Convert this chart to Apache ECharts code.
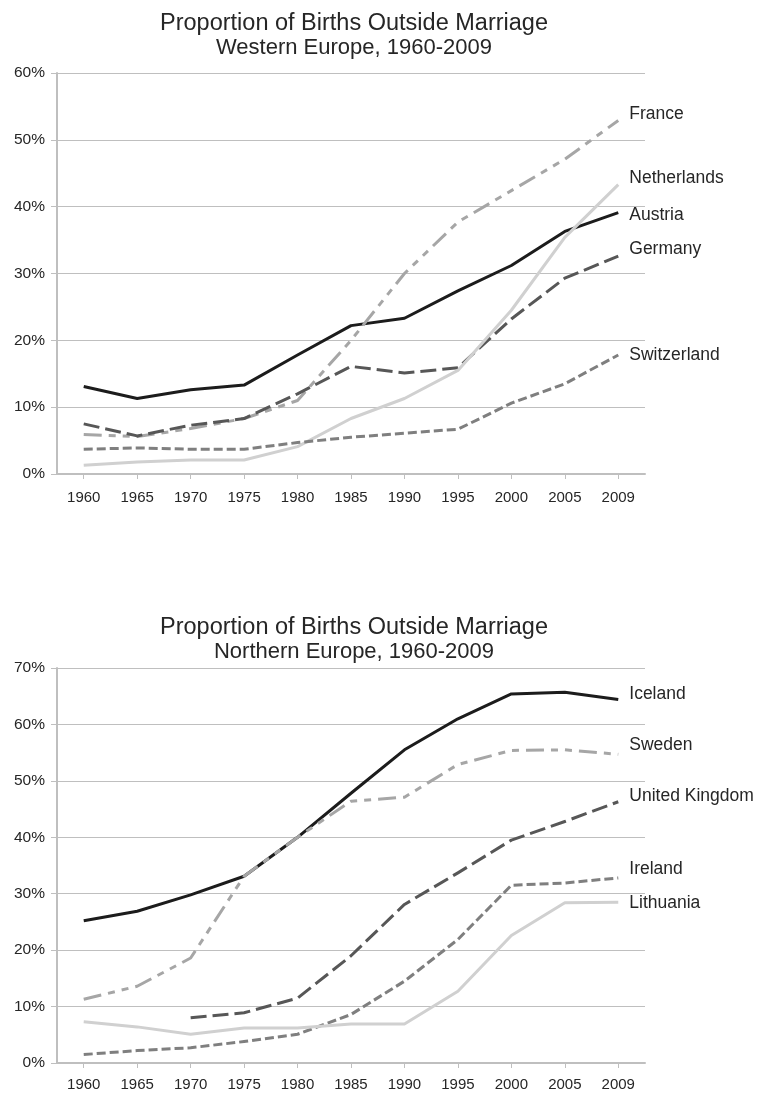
<!DOCTYPE html>
<html>
<head>
<meta charset="utf-8">
<script src="https://cdn.jsdelivr.net/npm/echarts@6/dist/echarts.min.js"></script>
<style>
html,body{margin:0;padding:0;background:#fff;}
#c{width:758px;height:1093px;}
</style>
</head>
<body>
<div id="c"></div>
<script>
const years = ['1960','1965','1970','1975','1980','1985','1990','1995','2000','2005','2009'];

const titleMain = 'Proportion of Births Outside Marriage';
const subWest = 'Western Europe, 1960-2009';
const subNorth = 'Northern Europe, 1960-2009';

// Western Europe (%)
const austria     = [13.1, 11.3, 12.6, 13.3, 17.8, 22.2, 23.3, 27.4, 31.2, 36.3, 39.1];
const france      = [5.9, 5.6, 6.8, 8.3, 11.0, 20.0, 30.0, 37.7, 42.4, 47.1, 52.9];
const germany     = [7.5, 5.7, 7.3, 8.3, 12.0, 16.1, 15.1, 15.9, 23.2, 29.3, 32.6];
const netherlands = [1.3, 1.8, 2.1, 2.1, 4.1, 8.3, 11.3, 15.5, 24.5, 35.4, 43.3];
const switzerland = [3.7, 3.9, 3.7, 3.7, 4.7, 5.5, 6.1, 6.7, 10.6, 13.5, 17.8];

// Northern Europe (%)
const iceland   = [25.2, 26.9, 29.8, 33.1, 40.0, 47.8, 55.5, 61.0, 65.4, 65.7, 64.4];
const sweden    = [11.3, 13.6, 18.6, 33.1, 40.0, 46.4, 47.1, 52.9, 55.4, 55.5, 54.7];
const uk        = [null, null, 8.0, 8.9, 11.5, 19.0, 28.1, 33.7, 39.5, 42.8, 46.3];
const ireland   = [1.5, 2.2, 2.7, 3.8, 5.1, 8.6, 14.5, 21.9, 31.5, 31.9, 32.8];
const lithuania = [7.3, 6.4, 5.1, 6.2, 6.2, 6.9, 6.9, 12.7, 22.6, 28.4, 28.5];

const FONT = '"Liberation Sans", Arial, Helvetica, sans-serif';
const TXT = '#262626';
const AX = '#bfbfbf';

const C_BLACK = '#1c1c1c', C_DARK = '#575757', C_MID = '#7f7f7f', C_LIGHT = '#a6a6a6', C_PALE = '#d0d0d0';
const DASH_LDD = [18, 7, 7, 7, 7, 7];
const DASH_LONG = [16, 6];
const DASH_SHORT = [9, 4];

function xAx(gi, margin) {
  return {
    type: 'category', gridIndex: gi, data: years, boundaryGap: true,
    axisLine: {show: true, lineStyle: {color: AX, width: 2}},
    axisTick: {show: true, alignWithLabel: true, length: 5, lineStyle: {color: AX, width: 1}},
    axisLabel: {color: TXT, fontFamily: FONT, fontSize: 15, margin: margin, interval: 0},
    splitLine: {show: false}
  };
}
function yAx(gi, max) {
  return {
    type: 'value', gridIndex: gi, min: 0, max: max, interval: 10,
    axisLine: {show: true, lineStyle: {color: AX, width: 2}},
    axisTick: {show: true, length: 6, lineStyle: {color: AX, width: 1}},
    axisLabel: {color: TXT, fontFamily: FONT, fontSize: 15.5, margin: 12, formatter: '{value}%'},
    splitLine: {show: true, lineStyle: {color: AX, width: 1}}
  };
}
function ser(name, data, gi, color, dash, dy) {
  return {
    name: name, type: 'line', xAxisIndex: gi, yAxisIndex: gi, data: data,
    symbol: 'none', smooth: false, connectNulls: false,
    lineStyle: {color: color, width: 3, type: dash || 'solid', cap: 'butt', join: 'round'},
    endLabel: {
      show: true, formatter: '{a}', color: TXT, fontFamily: FONT, fontSize: 17.5,
      distance: 11, offset: [0, dy]
    },
    emphasis: {disabled: true},
    silent: true
  };
}
function ttl(sub, top) {
  return {
    text: '{a|' + titleMain + '}\n{b|' + sub + '}', left: 349, top: top, textAlign: 'center',
    textStyle: {
      fontWeight: 'normal', fontFamily: FONT, color: TXT,
      rich: {
        a: {color: TXT, fontFamily: FONT, fontWeight: 'normal', fontSize: 23.5, lineHeight: 24, align: 'center'},
        b: {color: TXT, fontFamily: FONT, fontWeight: 'normal', fontSize: 22, lineHeight: 24, align: 'center'}
      }
    }
  };
}

const chart = echarts.init(document.getElementById('c'), null, {renderer: 'canvas'});
chart.setOption({
  animation: false,
  backgroundColor: '#ffffff',
  title: [ttl(subWest, 7), ttl(subNorth, 611)],
  grid: [
    {left: 57, top: 73, width: 588, height: 401},
    {left: 57, top: 668, width: 588, height: 395}
  ],
  xAxis: [xAx(0, 16), xAx(1, 14)],
  yAxis: [yAx(0, 60), yAx(1, 70)],
  series: [
    ser('Austria', austria, 0, C_BLACK, null, 2),
    ser('France', france, 0, C_LIGHT, DASH_LDD, -6),
    ser('Germany', germany, 0, C_DARK, DASH_LONG, -7),
    ser('Netherlands', netherlands, 0, C_PALE, null, -6),
    ser('Switzerland', switzerland, 0, C_MID, DASH_SHORT, 0),
    ser('Iceland', iceland, 1, C_BLACK, null, -5),
    ser('Sweden', sweden, 1, C_LIGHT, DASH_LDD, -9),
    ser('United Kingdom', uk, 1, C_DARK, DASH_LONG, -6),
    ser('Ireland', ireland, 1, C_MID, DASH_SHORT, -9),
    ser('Lithuania', lithuania, 1, C_PALE, null, 1)
  ]
});
</script>
</body>
</html>
